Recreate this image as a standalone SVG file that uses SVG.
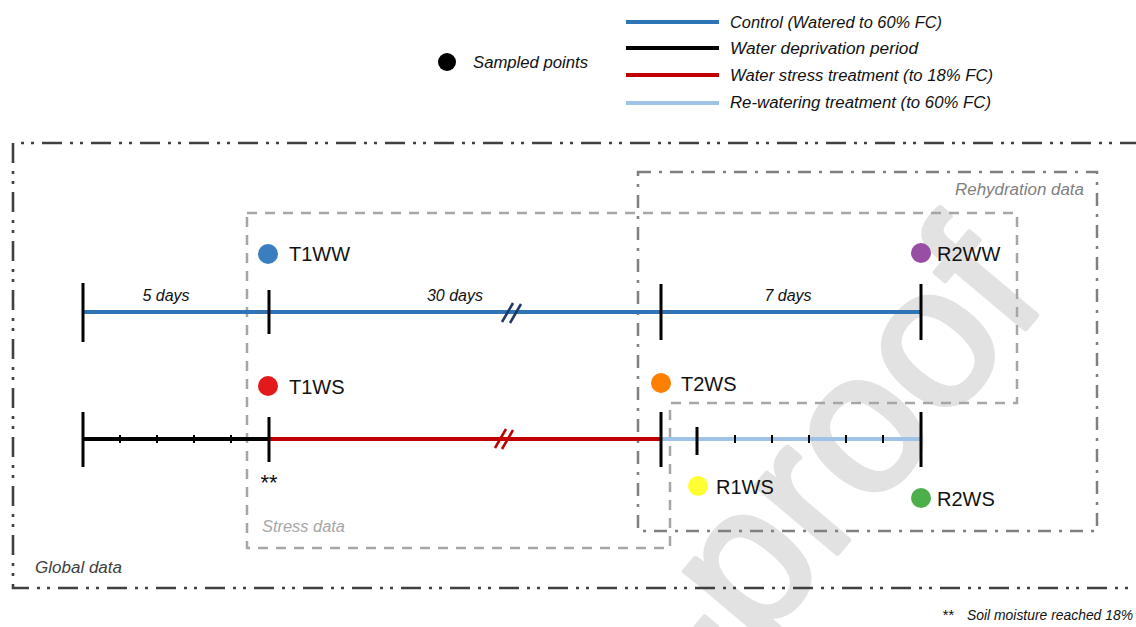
<svg xmlns="http://www.w3.org/2000/svg" width="1136" height="627" viewBox="0 0 1136 627">
<style>
.lbl{font-family:"Liberation Sans",Arial,sans-serif;font-size:20px;fill:#111}
.it{font-family:"Liberation Sans",Arial,sans-serif;font-style:italic;fill:#111}
.tick{stroke:#000;stroke-width:3}
.mtick{stroke:#000;stroke-width:2}
.wm{font-family:"Liberation Sans",Arial,sans-serif;font-size:200px;fill:#e2e2e2;stroke:#e2e2e2;stroke-width:5;stroke-linejoin:round}
</style>
<rect width="1136" height="627" fill="#fff"/>
<text class="wm" transform="translate(1050,300) rotate(-50)" text-anchor="end">Journal Pre-proof</text>

<g id="regions" fill="none">
  <path id="global-box" d="M1140,143 H13 V588 H1140" stroke="#404040" stroke-width="2.6" stroke-dasharray="20 8 3 7 3 8"/>
  <path id="stress-box" d="M247,213 H1017 V403 H670 V548 H247 Z" stroke="#a6a6a6" stroke-width="2.5" stroke-dasharray="10 8"/>
  <rect id="rehydration-box" x="638" y="172" width="459" height="359" stroke="#7f7f7f" stroke-width="2.5" stroke-dasharray="13 8 3 8"/>
  <text class="it" x="35" y="573" font-size="16" textLength="87" lengthAdjust="spacingAndGlyphs" style="fill:#404040">Global data</text>
  <text class="it" x="262" y="532" font-size="16" textLength="83" lengthAdjust="spacingAndGlyphs" style="fill:#a6a6a6">Stress data</text>
  <text class="it" x="955" y="195" font-size="16" textLength="129" lengthAdjust="spacingAndGlyphs" style="fill:#7f7f7f">Rehydration data</text>
</g>

<g id="legend">
  <circle cx="447" cy="62" r="9" fill="#000"/>
  <text class="it" x="473" y="68" font-size="16" textLength="115" lengthAdjust="spacingAndGlyphs">Sampled points</text>
  <line x1="626" y1="22" x2="719" y2="22" stroke="#2e75b6" stroke-width="4"/>
  <line x1="626" y1="48" x2="719" y2="48" stroke="#000" stroke-width="4"/>
  <line x1="626" y1="75" x2="719" y2="75" stroke="#c00000" stroke-width="4"/>
  <line x1="626" y1="103" x2="719" y2="103" stroke="#9dc3e6" stroke-width="4"/>
  <text class="it" x="730" y="28" font-size="16" textLength="212" lengthAdjust="spacingAndGlyphs">Control (Watered to 60% FC)</text>
  <text class="it" x="730" y="54" font-size="16" textLength="188" lengthAdjust="spacingAndGlyphs">Water deprivation period</text>
  <text class="it" x="730" y="81" font-size="16" textLength="263" lengthAdjust="spacingAndGlyphs">Water stress treatment (to 18% FC)</text>
  <text class="it" x="730" y="108" font-size="16" textLength="261" lengthAdjust="spacingAndGlyphs">Re-watering treatment (to 60% FC)</text>
</g>

<g id="connectors">
  <line x1="83" y1="312" x2="921" y2="312" stroke="#2e75b6" stroke-width="4"/>
  <line x1="502" y1="322" x2="513" y2="303" stroke="#1f3864" stroke-width="2.5"/>
  <line x1="510" y1="323" x2="521" y2="304" stroke="#1f3864" stroke-width="2.5"/>
  <line class="tick" x1="83" y1="283" x2="83" y2="342"/>
  <line class="tick" x1="269" y1="290" x2="269" y2="334"/>
  <line class="tick" x1="661" y1="284" x2="661" y2="340"/>
  <line class="tick" x1="921" y1="284" x2="921" y2="340"/>
  <line x1="83" y1="439" x2="269" y2="439" stroke="#000" stroke-width="4"/>
  <line x1="269" y1="439" x2="661" y2="439" stroke="#c00000" stroke-width="4"/>
  <line x1="661" y1="439" x2="921" y2="439" stroke="#9dc3e6" stroke-width="4"/>
  <line x1="495" y1="448" x2="506" y2="429" stroke="#c00000" stroke-width="2.5"/>
  <line x1="502" y1="449" x2="513" y2="430" stroke="#c00000" stroke-width="2.5"/>
  <line class="tick" x1="83" y1="412" x2="83" y2="467"/>
  <line class="tick" x1="269" y1="417" x2="269" y2="462"/>
  <line class="tick" x1="661" y1="412" x2="661" y2="467"/>
  <line class="tick" x1="697" y1="427" x2="697" y2="455"/>
  <line class="tick" x1="921" y1="412" x2="921" y2="467"/>
  <line class="mtick" x1="120" y1="435" x2="120" y2="443"/>
  <line class="mtick" x1="157" y1="435" x2="157" y2="443"/>
  <line class="mtick" x1="194" y1="435" x2="194" y2="443"/>
  <line class="mtick" x1="231" y1="435" x2="231" y2="443"/>
  <line class="mtick" x1="735" y1="435" x2="735" y2="443"/>
  <line class="mtick" x1="772" y1="435" x2="772" y2="443"/>
  <line class="mtick" x1="809" y1="435" x2="809" y2="443"/>
  <line class="mtick" x1="846" y1="435" x2="846" y2="443"/>
  <line class="mtick" x1="883" y1="435" x2="883" y2="443"/>
  <text class="it" x="166" y="301" font-size="16" text-anchor="middle">5 days</text>
  <text class="it" x="455" y="301" font-size="16" text-anchor="middle">30 days</text>
  <text class="it" x="788" y="301" font-size="16" text-anchor="middle">7 days</text>
  <text x="269" y="490" font-family="Liberation Sans,Arial,sans-serif" font-size="22" text-anchor="middle" fill="#111">**</text>
</g>

<g id="T1WW"><circle cx="268" cy="254" r="10" fill="#3a7ebf"/><text class="lbl" x="289" y="261">T1WW</text></g>
<g id="T1WS"><circle cx="268" cy="386" r="10" fill="#e31a1c"/><text class="lbl" x="289" y="394">T1WS</text></g>
<g id="T2WS"><circle cx="661" cy="383" r="10" fill="#ff7f00"/><text class="lbl" x="681" y="391">T2WS</text></g>
<g id="R2WW"><circle cx="921" cy="253" r="10" fill="#984ea3"/><text class="lbl" x="937" y="261">R2WW</text></g>
<g id="R1WS"><circle cx="698" cy="486" r="10" fill="#ffff33"/><text class="lbl" x="716" y="494">R1WS</text></g>
<g id="R2WS"><circle cx="921" cy="498" r="10" fill="#4daf4a"/><text class="lbl" x="937" y="506">R2WS</text></g>

<g id="footnote">
  <text class="it" x="942" y="620" font-size="15">**</text>
  <text class="it" x="967" y="620" font-size="15" textLength="166" lengthAdjust="spacingAndGlyphs">Soil moisture reached 18%</text>
</g>
</svg>
